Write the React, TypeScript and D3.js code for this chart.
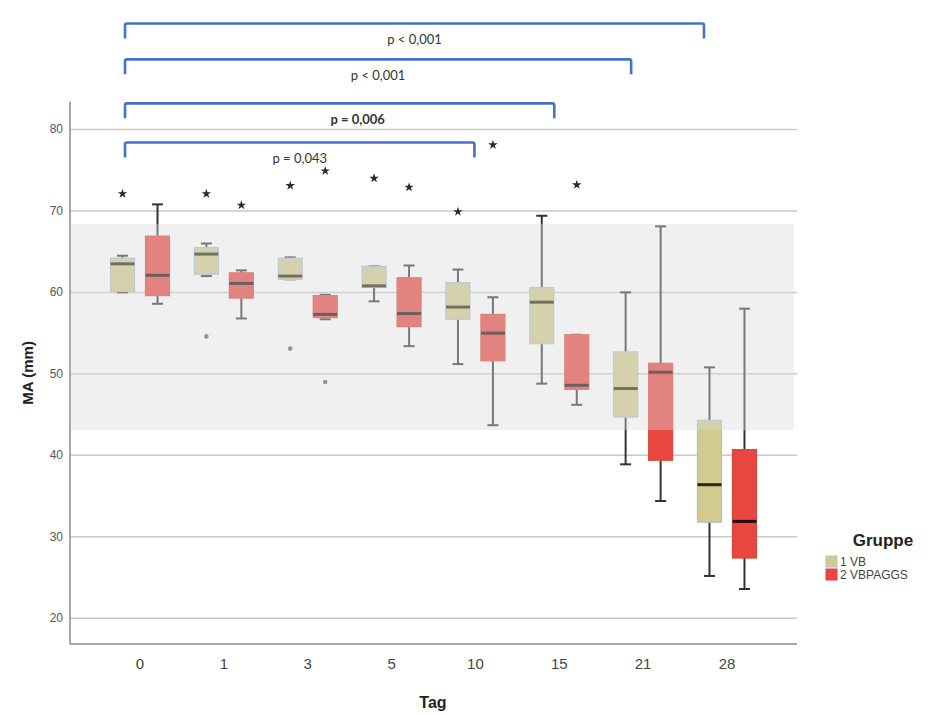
import React, { useEffect } from "react";
import * as d3 from "d3";

// categories (Tag)
const days = ["0", "1", "3", "5", "10", "15", "21", "28"];

// group 1 VB
const vbLow = [60.0, 62.0, 61.6, 58.9, 51.2, 48.8, 38.9, 25.2];
const vbQ1 = [60.1, 62.2, 61.6, 60.6, 56.7, 53.7, 44.7, 31.8];
const vbMedian = [63.5, 64.7, 62.0, 60.8, 58.2, 58.8, 48.2, 36.4];
const vbQ3 = [64.2, 65.5, 64.2, 63.2, 61.2, 60.6, 52.7, 44.3];
const vbHigh = [64.5, 66.0, 64.3, 63.2, 62.8, 69.4, 60.0, 50.8];
const vbExtreme = [72.1, 72.1, 73.1, 74.0, 69.9, null, null, null];
const vbOutlier = [null, 54.6, 53.1, null, null, null, null, null];

// group 2 VBPAGGS
const rdLow = [58.6, 56.8, 56.7, 53.4, 43.7, 46.2, 34.4, 23.6];
const rdQ1 = [59.6, 59.3, 56.9, 55.8, 51.6, 48.1, 39.4, 27.4];
const rdMedian = [62.1, 61.1, 57.3, 57.4, 55.0, 48.6, 50.2, 31.9];
const rdQ3 = [66.9, 62.4, 59.6, 61.8, 57.3, 54.8, 51.3, 40.7];
const rdHigh = [70.8, 62.7, 59.7, 63.3, 59.4, 54.8, 68.1, 58.0];
const rdExtreme = [null, 70.7, 74.9, 72.9, 78.1, 73.2, null, null];
const rdOutlier = [null, null, 49.0, null, null, null, null, null];

// reference range (shaded)
const refRange = [43.1, 68.4];

const yTicks = [20, 30, 40, 50, 60, 70, 80];

// significance brackets
const bracketFrom = ["0", "0", "0", "0"];
const bracketTo = ["28", "21", "15", "10"];
const bracketLabels = ["p < 0,001", "p < 0,001", "p = 0,006", "p = 0,043"];
const bracketLevels = [93.0, 88.6, 83.2, 78.4];

const groups = [
  { name: "1 VB", fill: "#d3cb8e", stroke: "#a9bfd3", median: "#2a2610" },
  { name: "2 VBPAGGS", fill: "#e9463f", stroke: "#d8473f", median: "#1a0c0a" },
];

const W = 941;
const H = 715;
const font = "'Liberation Sans', Arial, sans-serif";

const App = () => {
  useEffect(() => {
    document.body.style.margin = "0";
  }, []);

  const x = d3.scalePoint<string>().domain(days).range([70, 797]).padding(0.835);
  const y = d3.scaleLinear().domain([16.85, 83.4]).range([644, 101.7]);
  const off = 17.5;
  const bw = 24;
  const cap = 11;

  const series = [
    { low: vbLow, q1: vbQ1, med: vbMedian, q3: vbQ3, high: vbHigh, ext: vbExtreme, out: vbOutlier, dx: -off, g: groups[0] },
    { low: rdLow, q1: rdQ1, med: rdMedian, q3: rdQ3, high: rdHigh, ext: rdExtreme, out: rdOutlier, dx: off, g: groups[1] },
  ];

  const star = d3.symbol().type(d3.symbolStar).size(28)();

  // small hand-drawn offsets of the bracket ends
  const leftNudge = -15;
  const rightNudge = [-23, -12, -5, -1];
  const labelNudge = [0, 0, 18, 0];

  return (
    <svg width={W} height={H} style={{ display: "block", background: "#fff" }}>
      {/* grid */}
      {yTicks.map((t) => (
        <line key={t} x1={70} x2={797} y1={y(t)} y2={y(t)} stroke="#c9c9c9" strokeWidth={1.5} />
      ))}

      {/* boxes */}
      {series.map((s, si) =>
        days.map((d, i) => {
          const cx = (x(d) as number) + s.dx;
          return (
            <g key={`${si}-${d}`}>
              <line x1={cx} x2={cx} y1={y(s.high[i])} y2={y(s.q3[i])} stroke="#333" strokeWidth={2} />
              <line x1={cx} x2={cx} y1={y(s.q1[i])} y2={y(s.low[i])} stroke="#333" strokeWidth={2} />
              <line x1={cx - cap / 2} x2={cx + cap / 2} y1={y(s.high[i])} y2={y(s.high[i])} stroke="#333" strokeWidth={2} />
              <line x1={cx - cap / 2} x2={cx + cap / 2} y1={y(s.low[i])} y2={y(s.low[i])} stroke="#333" strokeWidth={2} />
              <rect
                x={cx - bw / 2}
                y={y(s.q3[i])}
                width={bw}
                height={y(s.q1[i]) - y(s.q3[i])}
                fill={s.g.fill}
                stroke={s.g.stroke}
                strokeWidth={1.2}
              />
              <line x1={cx - bw / 2} x2={cx + bw / 2} y1={y(s.med[i])} y2={y(s.med[i])} stroke={s.g.median} strokeWidth={3} />
              {s.ext[i] != null && (
                <path d={star as string} transform={`translate(${cx},${y(s.ext[i] as number)})`} fill="#2a2a2a" />
              )}
              {s.out[i] != null && (
                <circle cx={cx} cy={y(s.out[i] as number)} r={2.3} fill="#666" />
              )}
            </g>
          );
        })
      )}

      {/* reference band, translucent over the boxes */}
      <rect
        x={71}
        width={794 - 71}
        y={y(refRange[1])}
        height={y(refRange[0]) - y(refRange[1])}
        fill="#dadada"
        fillOpacity={0.41}
      />

      {/* axes */}
      <line x1={70} x2={70} y1={101.7} y2={644} stroke="#8c8c8c" strokeWidth={1.5} />
      <line x1={70} x2={797} y1={644} y2={644} stroke="#8c8c8c" strokeWidth={1.5} />
      {yTicks.map((t) => (
        <text key={t} x={63} y={y(t) + 4} textAnchor="end" fontFamily={font} fontSize={12} fill="#555">
          {t}
        </text>
      ))}
      {days.map((d) => (
        <text key={d} x={x(d)} y={669} textAnchor="middle" fontFamily={font} fontSize={15} fill="#444">
          {d}
        </text>
      ))}
      <text x={433} y={708} textAnchor="middle" fontFamily={font} fontSize={16} fontWeight="bold" fill="#222">
        Tag
      </text>
      <text
        transform={`translate(33,${(101.7 + 644) / 2}) rotate(-90)`}
        textAnchor="middle"
        fontFamily={font}
        fontSize={15}
        fontWeight="bold"
        fill="#222"
      >
        MA (mm)
      </text>

      {/* brackets */}
      {bracketFrom.map((f, i) => {
        const x1 = (x(f) as number) + leftNudge;
        const x2 = (x(bracketTo[i]) as number) + rightNudge[i];
        const by = y(bracketLevels[i]);
        return (
          <g key={i}>
            <path
              d={`M${x1},${by + 15} L${x1},${by + 2} Q${x1},${by} ${x1 + 2},${by} L${x2 - 2},${by} Q${x2},${by} ${x2},${by + 2} L${x2},${by + 15}`}
              fill="none"
              stroke="#4472c4"
              strokeWidth={2.6}
            />
            <text
              x={(x1 + x2) / 2 + labelNudge[i]}
              y={by + 21}
              textAnchor="middle"
              fontFamily="Lato, 'Open Sans', sans-serif"
              fontSize={13}
              fontWeight={i === 2 ? 700 : 400}
              fill="#333"
            >
              {bracketLabels[i]}
            </text>
          </g>
        );
      })}

      {/* legend */}
      <text x={883} y={546} textAnchor="middle" fontFamily={font} fontSize={17} fontWeight="bold" fill="#222">
        Gruppe
      </text>
      {groups.map((g, i) => (
        <g key={g.name} transform={`translate(826,${556 + i * 13})`}>
          <rect width={11} height={11} fill={g.fill} stroke={g.stroke} strokeWidth={1} />
          <text x={14} y={10} fontFamily={font} fontSize={12} fill="#444">
            {g.name}
          </text>
        </g>
      ))}
    </svg>
  );
};

export default App;
